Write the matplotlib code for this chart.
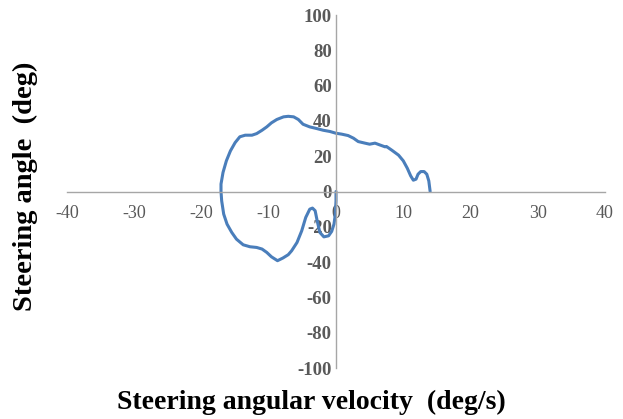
import matplotlib
matplotlib.use("Agg")
import matplotlib.pyplot as plt

# steering trace (deg/s, deg)
ang_vel = [0.0, 0.0, -0.1, -0.3, -0.64, -1.1, -1.8, -2.4, -2.8, -3.1, -3.5, -3.9,
           -4.5, -5.1, -5.8, -6.6, -7.1, -7.9, -8.7, -9.6, -10.3, -11.0, -11.8,
           -12.8, -13.8, -14.8, -15.5, -16.2, -16.7, -17.0, -17.1,
           -17.1, -16.8, -16.3, -15.7, -15.0, -14.3, -13.5, -12.5, -11.8, -11.0,
           -10.3, -9.6, -8.8, -7.8, -7.1, -6.3, -5.6, -4.9, -3.9, -2.9, -1.9,
           -0.9, 0.0, 0.84, 1.8, 2.6, 3.3, 4.3, 5.0, 5.8, 6.5, 7.3, 7.5, 8.3,
           9.3, 10.0, 10.6, 11.1, 11.5, 11.9, 12.2, 12.6, 13.1, 13.5, 13.8, 14.0]
angle = [0.0, -5.3, -12.8, -18.5, -22.6, -25.1, -25.7, -23.2, -16.6, -10.9, -9.4, -10.0,
         -14.7, -22.3, -28.9, -33.6, -35.8, -37.7, -39.2, -37.0, -34.5, -32.6, -31.7,
         -31.3, -30.2, -27.0, -23.2, -18.5, -12.8, -5.3, 0.0,
         4.2, 10.8, 17.4, 23.0, 27.7, 31.0, 31.9, 31.9, 32.8, 34.7,
         36.6, 38.9, 40.8, 42.3, 42.6, 42.3, 40.8, 38.1, 36.6, 35.7, 34.7,
         34.0, 33.0, 32.5, 31.7, 30.2, 28.3, 27.4, 26.8, 27.4, 26.4, 25.3, 25.5, 23.4,
         20.6, 17.4, 13.2, 8.9, 6.4, 7.0, 9.8, 11.3, 11.3, 9.8, 6.0, 0.0]

x_ticks = [-40, -30, -20, -10, 0, 10, 20, 30, 40]
y_ticks = [-100, -80, -60, -40, -20, 0, 20, 40, 60, 80, 100]

serif = ["Liberation Serif", "DejaVu Serif"]
tick_color = "#595959"
axis_color = "#A6A6A6"

fig = plt.figure(figsize=(6.23, 4.19), dpi=100)
ax = fig.add_axes([67 / 623, 51 / 419, 538 / 623, 353 / 419])

ax.plot(ang_vel, angle, color="#4A7EBB", linewidth=2.2,
        solid_capstyle="round", solid_joinstyle="round")

ax.set_xlim(-40, 40)
ax.set_ylim(-100, 100)

for side in ["top", "right"]:
    ax.spines[side].set_visible(False)
ax.spines["left"].set_position(("data", 0))
ax.spines["bottom"].set_position(("data", 0))
for side in ["left", "bottom"]:
    ax.spines[side].set_color(axis_color)
    ax.spines[side].set_linewidth(1.0)

ax.set_xticks(x_ticks)
ax.set_yticks(y_ticks)
ax.tick_params(length=0, colors=tick_color)
ax.tick_params(axis="x", pad=10)
ax.tick_params(axis="y", pad=3)
ax.set_xticklabels([str(t) for t in x_ticks], family=serif, fontsize=13, color=tick_color)
ax.set_yticklabels([str(t) for t in y_ticks], family=serif, fontsize=13.5,
                   fontweight="bold", color=tick_color)

fig.text(311 / 623, 1 - 402 / 419, "Steering angular velocity  (deg/s)", family=serif,
         fontsize=20, fontweight="bold", ha="center", va="center")
fig.text(25 / 623, 1 - 186 / 419, "Steering angle  (deg)", family=serif,
         fontsize=20.5, fontweight="bold", ha="center", va="center", rotation=90)

fig.savefig("out.png", dpi=100)
